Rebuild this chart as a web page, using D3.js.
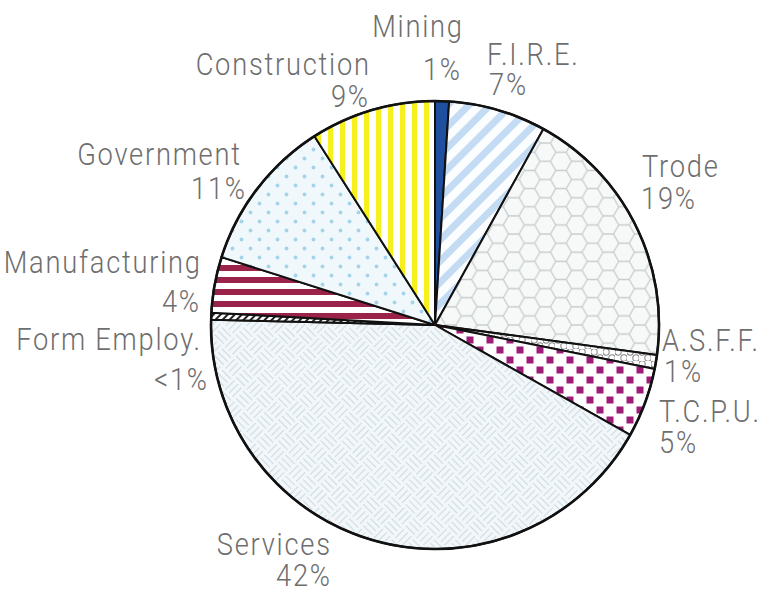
<!DOCTYPE html>
<html>
<head>
<meta charset="utf-8">
<script src="https://cdn.jsdelivr.net/npm/d3@7"></script>
<style>
  html, body { margin: 0; padding: 0; background: #ffffff; }
  svg { display: block; }
  .lbl { font-family: Roboto, "Liberation Sans", "DejaVu Sans", sans-serif; font-weight: 300;
         font-size: 31px; fill: #6e6e6e; letter-spacing: 2px; }
</style>
</head>
<body>
<svg id="chart" width="764" height="590"></svg>
<script>
// Employment share by industry, clockwise from 12 o'clock
const categories = ["Mining", "F.I.R.E.", "Trode", "A.S.F.F.", "T.C.P.U.", "Services",
                    "Form Employ.", "Manufacturing", "Government", "Construction"];
const shares = [1, 7, 19, 1, 5, 42, 0.5, 4, 11, 9];

// Fill for each slice (ids of the SVG patterns defined below, or a flat colour)
const fills = {
  "Mining": "#1f4f9f",
  "F.I.R.E.": "url(#p-fire)",
  "Trode": "url(#p-hex)",
  "A.S.F.F.": "url(#p-rings)",
  "T.C.P.U.": "url(#p-checks)",
  "Services": "url(#p-weave)",
  "Form Employ.": "url(#p-hatch)",
  "Manufacturing": "url(#p-bands)",
  "Government": "url(#p-dots)",
  "Construction": "url(#p-yellow)"
};

// Where each label sits: name line (x, y) and percentage line (px, py)
const labelSpots = {
  "Mining":        { x: 462, y: 37,  px: 460, py: 80,  anchor: "end" },
  "F.I.R.E.":      { x: 487, y: 65,  px: 489, py: 95,  anchor: "start" },
  "Trode":         { x: 642, y: 177, px: 641, py: 209, anchor: "start" },
  "A.S.F.F.":      { x: 662, y: 351, px: 664, py: 382, anchor: "start" },
  "T.C.P.U.":      { x: 659, y: 422, px: 659, py: 453, anchor: "start" },
  "Services":      { x: 330, y: 555, px: 330, py: 586, anchor: "end" },
  "Form Employ.":  { x: 200, y: 350, px: 207, py: 390, anchor: "end" },
  "Manufacturing": { x: 200, y: 273, px: 199, py: 312, anchor: "end" },
  "Government":    { x: 240, y: 165, px: 245, py: 199, anchor: "end" },
  "Construction":  { x: 369, y: 75,  px: 368, py: 107, anchor: "end" }
};

const pctText = v => v < 1 ? "<1%" : d3.format("d")(v) + "%";

const svg = d3.select("#chart");
const defs = svg.append("defs");

// --- fill patterns ---
function pattern(id, w, h, transform) {
  const p = defs.append("pattern").attr("id", id)
    .attr("patternUnits", "userSpaceOnUse")
    .attr("width", w).attr("height", h);
  if (transform) p.attr("patternTransform", transform);
  return p;
}

// diagonal light-blue stripes
{
  const p = pattern("p-fire", 15, 15, "rotate(45)");
  p.append("rect").attr("width", 15).attr("height", 15).attr("fill", "#fbfdff");
  p.append("rect").attr("width", 7).attr("height", 15).attr("fill", "#c3dcf3");
}
// flat-topped hexagon mesh
{
  const r = 10.5, h = Math.sqrt(3) * r;
  const p = pattern("p-hex", 3 * r, h);
  p.append("rect").attr("width", 3 * r).attr("height", h).attr("fill", "#f7f9f9");
  const path = [
    `M${0.5 * r},${h / 2} L${r},0 L${2 * r},0 L${2.5 * r},${h / 2} L${2 * r},${h} L${r},${h} Z`,
    `M0,${h / 2} L${0.5 * r},${h / 2}`,
    `M${2.5 * r},${h / 2} L${3 * r},${h / 2}`
  ].join(" ");
  p.append("path").attr("d", path).attr("fill", "none")
    .attr("stroke", "#c6cccc").attr("stroke-width", 1.3);
}
// small rings
{
  const p = pattern("p-rings", 12, 12);
  p.append("rect").attr("width", 12).attr("height", 12).attr("fill", "#ffffff");
  [[3, 3], [9, 9]].forEach(([cx, cy]) =>
    p.append("circle").attr("cx", cx).attr("cy", cy).attr("r", 3.2)
      .attr("fill", "none").attr("stroke", "#8a8a8a").attr("stroke-width", 1.1));
}
// magenta checks
{
  const p = pattern("p-checks", 20, 20);
  p.append("rect").attr("width", 20).attr("height", 20).attr("fill", "#ffffff");
  [[1.5, 1.5], [11.5, 11.5]].forEach(([x, y]) =>
    p.append("rect").attr("x", x).attr("y", y).attr("width", 7).attr("height", 7)
      .attr("fill", "#9e1c78"));
}
// basket weave
{
  const s = 15;
  const p = pattern("p-weave", 2 * s, 2 * s, "rotate(45)");
  p.append("rect").attr("width", 2 * s).attr("height", 2 * s).attr("fill", "#f3f7f9");
  const g = p.append("g").attr("stroke", "#cadce5").attr("stroke-width", 1.1);
  const offs = [2.5, 7.5, 12.5];
  const block = (x0, y0, horiz) => offs.forEach(o => {
    if (horiz) g.append("line").attr("x1", x0 + 1).attr("x2", x0 + s - 1).attr("y1", y0 + o).attr("y2", y0 + o);
    else g.append("line").attr("y1", y0 + 1).attr("y2", y0 + s - 1).attr("x1", x0 + o).attr("x2", x0 + o);
  });
  block(0, 0, true); block(s, 0, false); block(0, s, false); block(s, s, true);
}
// black hatching
{
  const p = pattern("p-hatch", 5, 5, "rotate(45)");
  p.append("rect").attr("width", 5).attr("height", 5).attr("fill", "#ffffff");
  p.append("rect").attr("width", 2).attr("height", 5).attr("fill", "#222");
}
// maroon horizontal bands
{
  const p = pattern("p-bands", 12, 12);
  p.append("rect").attr("width", 12).attr("height", 12).attr("fill", "#ffffff");
  p.append("rect").attr("y", 0).attr("width", 12).attr("height", 6).attr("fill", "#9b2248");
}
// pale blue dots
{
  const p = pattern("p-dots", 18, 18);
  p.append("rect").attr("width", 18).attr("height", 18).attr("fill", "#f1f8fb");
  [[4.5, 4.5], [13.5, 13.5]].forEach(([cx, cy]) =>
    p.append("circle").attr("cx", cx).attr("cy", cy).attr("r", 1.9).attr("fill", "#a3d4e9"));
}
// yellow vertical stripes
{
  const p = pattern("p-yellow", 12, 12);
  p.append("rect").attr("width", 12).attr("height", 12).attr("fill", "#ffffff");
  p.append("rect").attr("x", 1).attr("width", 5).attr("height", 12).attr("fill", "#f6f01c");
}

// --- pie ---
const cx = 435, cy = 325, radius = 224;
const data = categories.map((c, i) => ({ name: c, value: shares[i] }));

const pie = d3.pie().sort(null).value(d => d.value)
  .startAngle(0).endAngle(2 * Math.PI);
const arc = d3.arc().innerRadius(0).outerRadius(radius);

const g = svg.append("g").attr("transform", `translate(${cx},${cy})`);

g.selectAll("path.slice")
  .data(pie(data))
  .join("path")
  .attr("class", "slice")
  .attr("d", arc)
  .attr("fill", d => fills[d.data.name])
  .attr("stroke", "#111")
  .attr("stroke-width", 2)
  .attr("stroke-linejoin", "round");

g.append("circle").attr("r", radius)
  .attr("fill", "none").attr("stroke", "#111").attr("stroke-width", 2.6);

// --- labels (narrow lettering: horizontally condensed text) ---
const squeeze = 0.88;
const lab = svg.append("g");
function putText(x, y, anchor, str) {
  const shift = anchor === "end" ? 2 * squeeze : 0;   // trailing letter-spacing
  lab.append("g").attr("transform", `translate(${x + shift},${y}) scale(${squeeze},1)`)
    .append("text").attr("class", "lbl")
    .attr("text-anchor", anchor).text(str);
}
data.forEach(d => {
  const s = labelSpots[d.name];
  putText(s.x, s.y, s.anchor, d.name);
  putText(s.px, s.py, s.anchor, pctText(d.value));
});
</script>
</body>
</html>
